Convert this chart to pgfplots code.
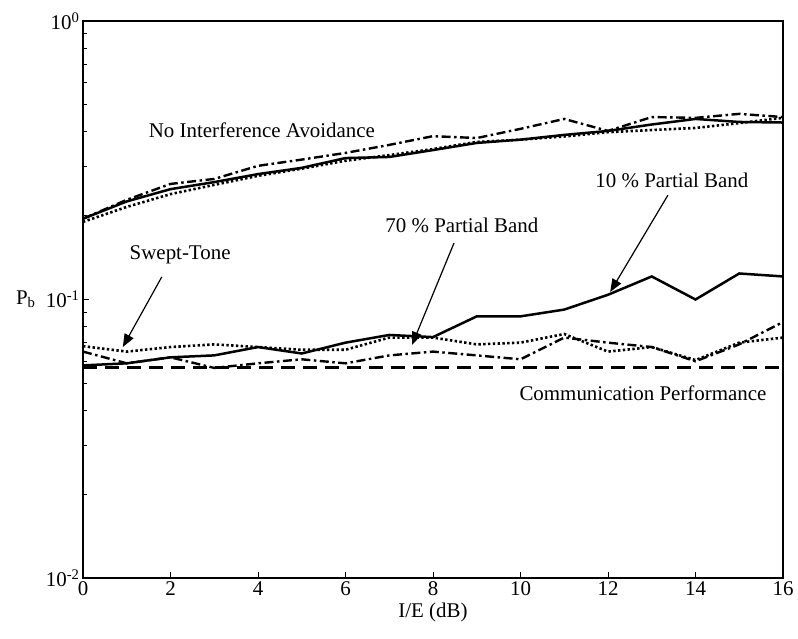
\documentclass[border=0pt]{standalone}
\usepackage{fontspec}
\setmainfont{Liberation Serif}
\usepackage{pgfplots}
\pgfplotsset{compat=1.18}
\usetikzlibrary{arrows.meta}

\newcommand{\bigfont}{\fontsize{21}{25}\selectfont}

\pgfplotstableread{
x   nsolid  ndash  ndot   lsolid  ldash  ldot   comm
0   0.195   0.195  0.190  0.058   0.065  0.068  0.0568
1   0.225   0.228  0.215  0.059   0.059  0.065  0.0568
2   0.249   0.260  0.239  0.062   0.062  0.0675 0.0568
3   0.264   0.271  0.258  0.063   0.0568 0.069  0.0568
4   0.282   0.302  0.278  0.0675  0.059  0.0675 0.0568
5   0.297   0.318  0.295  0.064   0.061  0.066  0.0568
6   0.322   0.336  0.315  0.070   0.059  0.066  0.0568
7   0.325   0.359  0.330  0.0746  0.063  0.073  0.0568
8   0.344   0.386  0.347  0.0733  0.065  0.073  0.0568
9   0.365   0.380  0.368  0.087   0.063  0.069  0.0568
10  0.375   0.410  0.375  0.087   0.061  0.070  0.0568
11  0.390   0.445  0.385  0.092   0.073  0.0752 0.0568
12  0.403   0.403  0.399  0.104   0.070  0.065  0.0568
13  0.425   0.452  0.406  0.121   0.0675 0.0675 0.0568
14  0.445   0.449  0.413  0.100   0.060  0.0606 0.0568
15  0.434   0.464  0.430  0.124   0.069  0.070  0.0568
16  0.432   0.452  0.449  0.121   0.083  0.073  0.0568
}\pbdata

\begin{document}
\begin{tikzpicture}
\useasboundingbox (-83bp,-61bp) rectangle (715bp,578bp);
\begin{axis}[
  scale only axis,
  width=700bp, height=557bp,
  ymode=log,
  xmin=0, xmax=16, ymin=0.01, ymax=1,
  xtick={0,2,...,16},
  ytick={0.01,0.1,1},
  yticklabels={10\textsuperscript{-2},10\textsuperscript{-1},10\textsuperscript{0}},
  /pgf/number format/assume math mode=true,
  tick label style={font=\bigfont},
  label style={font=\bigfont},
  xlabel={I/E (dB)},
  ylabel={P\textsubscript{b}},
  ylabel style={rotate=-90, at={(axis description cs:0,0.5)}, anchor=east, xshift=-44bp},
  axis line style={line width=2.6bp},
  tick align=inside,
  xtick pos=left, ytick pos=left,
  major tick length=6bp, minor tick length=4bp,
  tick style={line width=0.9bp, black},
  clip=false,
]
\addplot[black, line width=2.5bp] table[x=x,y=nsolid] {\pbdata};
\addplot[black, line width=2.4bp, dash pattern=on 9bp off 3.5bp on 2.5bp off 3.5bp] table[x=x,y=ndash] {\pbdata};
\addplot[black, line width=2.6bp, dash pattern=on 2.4bp off 2.4bp] table[x=x,y=ndot] {\pbdata};
\addplot[black, line width=2.5bp] table[x=x,y=lsolid] {\pbdata};
\addplot[black, line width=2.4bp, dash pattern=on 9bp off 3.5bp on 2.5bp off 3.5bp] table[x=x,y=ldash] {\pbdata};
\addplot[black, line width=2.6bp, dash pattern=on 2.4bp off 2.4bp] table[x=x,y=ldot] {\pbdata};
\addplot[black, line width=3bp, dash pattern=on 14bp off 8bp] table[x=x,y=comm] {\pbdata};

\node[font=\bigfont] at (axis cs:4.09,0.406) {No Interference Avoidance};
\node[font=\bigfont] at (axis cs:2.22,0.1445) {Swept-Tone};
\node[font=\bigfont] at (axis cs:8.66,0.185) {70 \% Partial Band};
\node[font=\bigfont] at (axis cs:13.46,0.2686) {10 \% Partial Band};
\node[font=\bigfont] at (axis cs:12.8,0.0462) {Communication Performance};

\draw[-{Triangle[length=13bp,width=10bp]}, line width=1.2bp] (axis cs:1.80,0.1205) -- (axis cs:0.91,0.0675);
\draw[-{Triangle[length=13bp,width=10bp]}, line width=1.2bp] (axis cs:8.48,0.1595) -- (axis cs:7.52,0.0687);
\draw[-{Triangle[length=13bp,width=10bp]}, line width=1.2bp] (axis cs:13.37,0.237) -- (axis cs:12.05,0.1064);
\end{axis}
\end{tikzpicture}
\end{document}
